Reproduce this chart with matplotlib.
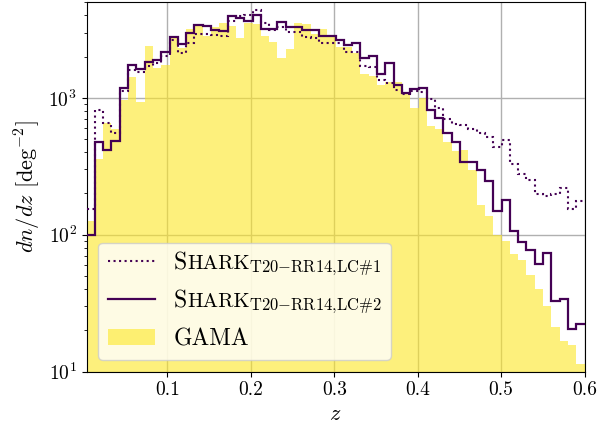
import numpy as np
import matplotlib
matplotlib.use("Agg")
import matplotlib.pyplot as plt
from matplotlib.offsetbox import TextArea, HPacker

# LaTeX-like look without a TeX install
plt.rcParams['font.family'] = ['cmr10', 'DejaVu Serif']
plt.rcParams['mathtext.fontset'] = 'cm'
plt.rcParams['axes.formatter.use_mathtext'] = True
plt.rcParams['axes.unicode_minus'] = False

# 60 redshift bins between 0.003 and 0.6
z_lo, z_hi, n_bins = 0.003, 0.6, 60

gama = [126, 360, 650, 590, 960, 1409, 933, 2399, 1656, 1722,
        2744, 2300, 3163, 3436, 2826, 3266, 3501, 3342, 2744, 3500,
        3459, 2826, 2565, 1941, 2254, 3533, 3459, 2925, 3178, 2872,
        2350, 2360, 2133, 1500, 1440, 1237, 1307, 1307, 1110, 849,
        1000, 619, 592, 472, 408, 414, 295, 165, 138, 100,
        90, 72.6, 64.9, 50.4, 40.2, 30.3, 21, 16.8, 15.7, 11.4]

lc1 = [155, 811, 649, 553, 1125, 1593, 1531, 1714, 1803, 2027,
       2637, 2133, 2496, 2904, 2904, 2872, 2838, 3658, 3981, 4018,
       4375, 3500, 3126, 3306, 3006, 3006, 2759, 2716, 2523, 2523,
       2496, 2167, 2167, 1714, 1683, 1346, 1285, 1135, 1074, 1120,
       1100, 977, 849, 700, 641, 630, 596, 553, 513, 435,
       495, 327, 279, 249, 197, 191, 198, 219, 155, 176]

lc2 = [100, 476, 414, 484, 1189, 1734, 1637, 1833, 1885, 2143,
       2793, 2454, 2954, 3382, 3342, 3126, 3069, 3981, 3802, 3655,
       4018, 3163, 3163, 3597, 3306, 3306, 3126, 3126, 2838, 2838,
       2637, 2427, 2496, 1941, 2015, 1490, 1803, 1237, 1086, 1169,
       1189, 821, 706, 557, 476, 340, 340, 295, 247, 150,
       178, 106, 89, 77, 61, 73, 33, 34, 20.3, 22.3]

sub_lc1 = r'$\!{}_{\rm T20{-}RR14{,}LC\#1}$'
sub_lc2 = r'$\!{}_{\rm T20{-}RR14{,}LC\#2}$'
label_gama = 'GAMA'

LEG_FS = 17


def shark_label(fig, sub):
    # fake small caps: big S, smaller HARK, then the subscript
    parts = HPacker(children=[TextArea('S', textprops=dict(fontsize=LEG_FS)),
                              TextArea('HARK', textprops=dict(fontsize=LEG_FS * 0.88)),
                              TextArea(sub, textprops=dict(fontsize=LEG_FS))],
                    align='baseline', pad=0, sep=0)
    parts.set_figure(fig)
    return parts


def main():
    edges = np.linspace(z_lo, z_hi, n_bins + 1)
    dark = plt.cm.viridis(0.0)
    yellow = plt.cm.viridis(1.0)

    fig = plt.figure(figsize=(6.14, 4.28), dpi=100)
    ax = fig.add_axes([0.141, 0.132, 0.811, 0.863])
    ax.set_yscale('log')

    ax.stairs(lc1, edges, baseline=None, color=dark, ls=':', lw=1.5,
              label='lc1', zorder=3)
    ax.stairs(lc2, edges, baseline=None, color=dark, lw=1.6,
              label='lc2', zorder=3)
    ax.stairs(gama, edges, baseline=1, fill=True, color=yellow, alpha=0.6,
              lw=0, label=label_gama, zorder=1)

    ax.set_xlim(z_lo, z_hi)
    ax.set_ylim(10, 5000)
    ax.set_xticks([0.1, 0.2, 0.3, 0.4, 0.5, 0.6])
    ax.set_xticklabels(['0.1', '0.2', '0.3', '0.4', '0.5', '0.6'])
    ax.tick_params(labelsize=14)
    ax.grid(True, which='major', color='#b0b0b0', lw=1, zorder=0)
    ax.set_axisbelow(True)
    ax.set_xlabel(r'$z$', fontsize=16)
    ax.set_ylabel(r'$dn/dz$ [deg$^{-2}$]', fontsize=16)

    leg = ax.legend(loc='lower left', fontsize=LEG_FS)
    # swap the first two label boxes for the small-caps versions
    rows = [r for col in leg._legend_handle_box.get_children()
            for r in col.get_children()]
    for row, sub in zip(rows[:2], [sub_lc1, sub_lc2]):
        row.get_children()[1] = shark_label(fig, sub)

    fig.savefig('out.png', dpi=100)


if __name__ == '__main__':
    main()
